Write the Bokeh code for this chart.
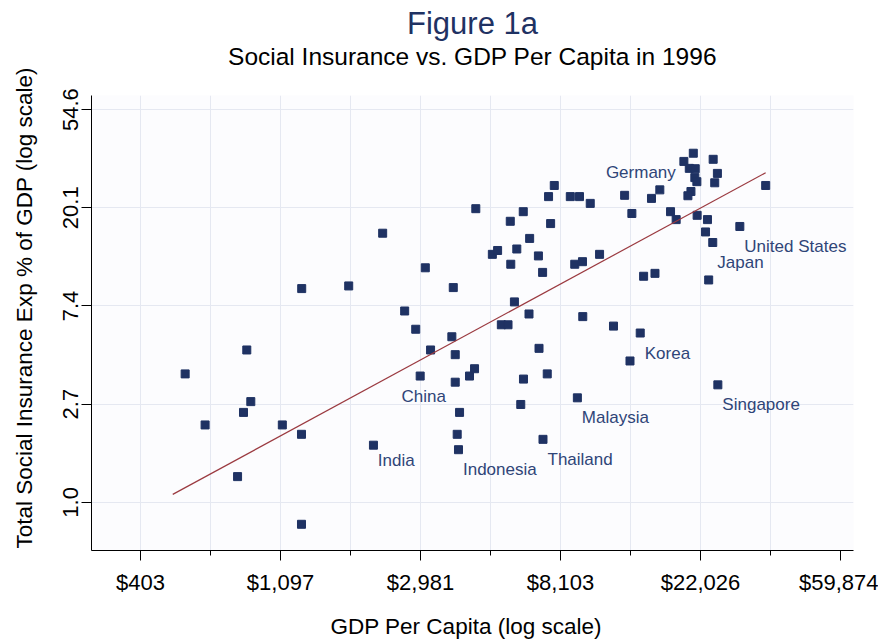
from bokeh.plotting import figure
from bokeh.models import (ColumnDataSource, Range1d, FixedTicker,
                          CustomJSTickFormatter, Title)
from bokeh.embed import file_html
from bokeh.resources import INLINE

# ---------------- data ----------------
gdp_per_capita = [555, 862, 887, 842, 640, 1111, 1274, 807, 1274, 2130,
                  1276, 1785, 2275, 3085, 3767, 2662, 2881, 3729, 4425, 3203,
                  3820, 4385, 4230, 2974, 3820, 3940, 3874, 3910, 7750, 7440,
                  8690, 9280, 10020, 12810, 16470, 15520, 13490, 19560, 20920, 20330,
                  21210, 24110, 24850, 21150, 21460, 24380, 20570, 20130, 35080, 17780,
                  18510, 21500, 23150, 22830, 29170, 24040, 23350, 5660, 6210, 7550,
                  6500, 4980, 5170, 5930, 6920, 5680, 7130, 8970, 9480, 10710,
                  14670, 15910, 5830, 6470, 9500, 5310, 5570, 11830, 14320, 6950,
                  6220, 7370, 13310, 6100, 9140, 7150, 24930]
social_insurance = [3.70, 4.72, 2.79, 2.50, 2.20, 2.20, 2.00, 1.30, 0.80, 1.79,
                    8.82, 9.06, 15.5, 10.9, 8.91, 7.02, 5.83, 5.40, 19.9, 4.72,
                    4.50, 3.90, 3.62, 3.62, 3.40, 2.50, 2.00, 1.71, 25.2, 22.5,
                    22.5, 22.5, 21.0, 22.8, 24.1, 22.1, 18.95, 32.2, 35.0, 30.0,
                    29.9, 32.9, 28.5, 27.3, 26.2, 25.9, 23.7, 22.7, 25.2, 19.3,
                    17.8, 18.6, 17.8, 15.7, 16.6, 14.1, 9.63, 17.5, 19.3, 17.1,
                    14.7, 12.5, 13.0, 13.2, 12.3, 11.3, 10.4, 11.3, 11.6, 12.5,
                    10.0, 10.3, 7.70, 6.81, 6.63, 6.10, 6.10, 6.02, 5.61, 4.80,
                    3.51, 3.70, 4.22, 2.71, 2.90, 1.90, 3.31]
# labelled countries -> index of their point
labelled = {"India": 9, "China": 23, "Indonesia": 27, "Germany": 39,
            "United States": 54, "Japan": 55, "Korea": 78,
            "Malaysia": 84, "Thailand": 85, "Singapore": 86}

# fitted line end points
fit_gdp = [508, 35080]
fit_soc = [1.085, 28.7]

x_ticks = [403.4288, 1096.633, 2980.958, 8103.084, 22026.47, 59874.14]
x_tick_labels = ["$403", "$1,097", "$2,981", "$8,103", "$22,026", "$59,874"]
x_minor_ticks = [665.1416, 1808.042, 4914.769, 13359.73, 36315.50]
y_ticks = [1.0, 2.718282, 7.389056, 20.08554, 54.59815]
y_tick_labels = ["1.0", "2.7", "7.4", "20.1", "54.6"]

title_text = "Figure 1a"
subtitle_text = "Social Insurance vs. GDP Per Capita in 1996"
x_title = "GDP Per Capita (log scale)"
y_title = "Total Social Insurance Exp % of GDP (log scale)"

# ---------------- style ----------------
FONT = "Liberation Sans"
NAVY = "#1f3263"
LABEL_COLOR = "#2f4578"
GRID = "#e5e8f1"
FIT = "#9b3a40"

p = figure(width=878, height=640, x_axis_type="log", y_axis_type="log",
           x_range=Range1d(284.3, 65690), y_range=Range1d(0.6126, 63.0),
           output_backend="svg", toolbar_location=None, title_location=None,
           min_border_left=91, min_border_right=25,
           min_border_top=95, min_border_bottom=90,
           background_fill_color="#fcfcfe", border_fill_color="white",
           outline_line_color=None)

# x axis
xa = p.xaxis[0]
xa.ticker = FixedTicker(ticks=x_ticks, minor_ticks=x_minor_ticks)
xa.formatter = CustomJSTickFormatter(args=dict(tvals=x_ticks, tlabels=x_tick_labels), code="""
for (let i = 0; i < tvals.length; i++) {
  if (Math.abs(Math.log(tick / tvals[i])) < 1e-3) return tlabels[i];
}
return '';
""")
xa.major_tick_out = 10
xa.major_tick_in = 0
xa.minor_tick_out = 5
xa.minor_tick_in = 0
xa.axis_line_color = "black"
xa.major_tick_line_color = "black"
xa.minor_tick_line_color = "black"
xa.major_label_text_font = FONT
xa.major_label_text_font_size = "22px"
xa.major_label_text_color = "black"
xa.major_label_standoff = 9

# y axis
ya = p.yaxis[0]
ya.ticker = FixedTicker(ticks=y_ticks, minor_ticks=[])
ya.formatter = CustomJSTickFormatter(args=dict(tvals=y_ticks, tlabels=y_tick_labels), code="""
for (let i = 0; i < tvals.length; i++) {
  if (Math.abs(Math.log(tick / tvals[i])) < 1e-3) return tlabels[i];
}
return '';
""")
ya.major_tick_out = 10
ya.major_tick_in = 0
ya.minor_tick_out = 0
ya.minor_tick_in = 0
ya.axis_line_color = "black"
ya.major_tick_line_color = "black"
ya.major_label_orientation = "vertical"
ya.major_label_text_font = FONT
ya.major_label_text_font_size = "22px"
ya.major_label_text_color = "black"
ya.major_label_standoff = 3

# grids
x_grid_ticks = [403.4288, 665.1416, 1096.633, 1808.042, 2980.958, 4914.769,
                8103.084, 13359.73, 22026.47, 36315.50]
p.xgrid[0].ticker = FixedTicker(ticks=x_grid_ticks, minor_ticks=[])
p.ygrid[0].ticker = FixedTicker(ticks=y_ticks, minor_ticks=[])
p.xgrid[0].grid_line_color = GRID
p.ygrid[0].grid_line_color = GRID
p.xgrid[0].grid_line_width = 1
p.ygrid[0].grid_line_width = 1

# points and fit
src = ColumnDataSource(dict(gdp=gdp_per_capita, soc=social_insurance))
p.scatter(x="gdp", y="soc", source=src, marker="square", size=8,
          fill_color=NAVY, line_color=NAVY)
p.line(fit_gdp, fit_soc, line_color=FIT, line_width=1.2)

# country labels: (x_offset px, y_offset px downwards, align)
label_pos = {"Germany": (-13.5, 4.6, "right"), "China": (3.5, 20, "center"),
             "India": (4.3, 15, "left")}
default_pos = (4.5, 20, "left")
groups = {}
for name, idx in labelled.items():
    dx, dy, align = label_pos.get(name, default_pos)
    g = groups.setdefault(align, dict(x=[], y=[], text=[], dx=[], dy=[]))
    g["x"].append(gdp_per_capita[idx])
    g["y"].append(social_insurance[idx])
    g["text"].append(name)
    g["dx"].append(dx)
    g["dy"].append(dy)
for align, g in groups.items():
    p.text(x="x", y="y", text="text", x_offset="dx", y_offset="dy",
           source=ColumnDataSource(g), text_align=align,
           text_baseline="alphabetic", text_font=dict(value=FONT),
           text_font_size="17px", text_color=LABEL_COLOR)

# titles (first added sits nearest the plot)
p.add_layout(Title(text=subtitle_text, align="center", vertical_align="bottom",
                   standoff=0, padding=dict(left=0, right=0, top=0, bottom=26),
                   text_font=FONT, text_font_size="24.5px",
                   text_font_style="normal", text_color="black"), "above")
p.add_layout(Title(text=title_text, align="center", vertical_align="bottom",
                   standoff=0, text_font=FONT, text_font_size="31px",
                   text_font_style="normal", text_color=NAVY), "above")
p.add_layout(Title(text=y_title, align="left", vertical_align="bottom",
                   offset=2, standoff=0,
                   padding=dict(left=0, right=0, top=0, bottom=24),
                   text_font=FONT, text_font_size="22.5px",
                   text_font_style="normal", text_color="black"), "left")
p.add_layout(Title(text=x_title, align="left", vertical_align="top",
                   offset=239, standoff=0,
                   padding=dict(left=0, right=0, top=16, bottom=0),
                   text_font=FONT, text_font_size="22.5px",
                   text_font_style="normal", text_color="black"), "below")

open("out.html", "w").write(file_html(p, INLINE))
